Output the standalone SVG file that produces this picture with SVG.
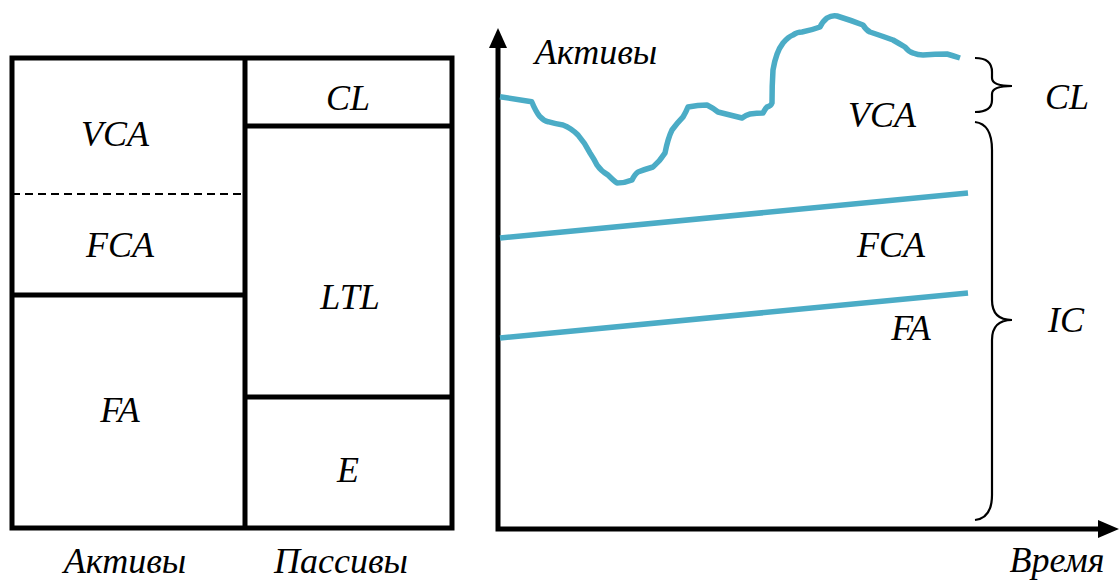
<svg xmlns="http://www.w3.org/2000/svg" width="1119" height="580" viewBox="0 0 1119 580">
<style>
.t{font-family:"Liberation Serif","Times New Roman",serif;font-style:italic;font-size:36px;fill:#000;text-anchor:middle}
.b{stroke:#000;stroke-width:5;fill:none}
.c{stroke:#4BACC6;stroke-width:5.5;fill:none;stroke-linejoin:round;stroke-linecap:butt}
.br{stroke:#000;stroke-width:2.2;fill:none}
</style>
<rect width="1119" height="580" fill="#fff"/>
<g id="balance">
<rect class="b" x="12" y="58" width="440" height="470"/>
<line class="b" x1="245" y1="58" x2="245" y2="528"/>
<line x1="12" y1="194" x2="245" y2="194" stroke="#000" stroke-width="2" stroke-dasharray="8,5"/>
<line class="b" x1="12" y1="295" x2="245" y2="295"/>
<line class="b" x1="245" y1="126" x2="452" y2="126"/>
<line class="b" x1="245" y1="397" x2="452" y2="397"/>
</g>
<g id="labels-left">
<text class="t" x="115" y="146">VCA</text>
<text class="t" x="120" y="257">FCA</text>
<text class="t" x="120" y="422">FA</text>
<text class="t" x="348" y="110">CL</text>
<text class="t" x="350" y="309">LTL</text>
<text class="t" x="348" y="482">E</text>
<text class="t" x="125" y="573">Активы</text>
<text class="t" x="341" y="573">Пассивы</text>
</g>
<g id="axes">
<polyline class="b" points="498,46 498,529 1100,529"/>
<polygon points="489,48 507,48 498,28" fill="#000"/>
<polygon points="1098,520 1098,538 1119,529" fill="#000"/>
</g>
<g id="curves">
<path class="c" d="M500,96.7 L531.7,101.7 Q536,112 540,116.7 Q544,121 548,121.7 Q556,124 563,125 Q571,128 578,135 Q585,143 590,153 Q594,159 597,165 Q601,171 608,175 Q614,181 617,183 Q625,183 632,180 Q635,174 638,172 Q646,169 653,167 Q660,161 665,153 Q668,138 672,130 Q678,122 683,117 Q686,112 688,107 Q698,105 707,105 Q713,108 718,112 Q730,115 742,118 Q746,115 750,114 Q757,113 763,113 Q765,109 767,107 Q771,106 772,103 Q772,85 773,70 Q776,52 783,43 Q788,37 793,35 Q797,32 802,32 Q812,30 820,27 Q823,21 827,18 Q832,15 837,16 Q850,20 863,25 Q866,30 870,32 Q882,36 893,40 Q900,44 905,47 Q909,52 913,53 Q918,55 923,55 Q935,54 947,54 Q954,56 960,58"/>
<line class="c" x1="500" y1="238" x2="968" y2="193"/>
<line class="c" x1="500" y1="338" x2="968" y2="293"/>
</g>
<g id="braces">
<path class="br" d="M975,58 Q992,58 992,72 L992,78 Q992,86 1012,86 Q992,86 992,94 L992,100 Q992,112 975,112"/>
<path class="br" d="M975,122 Q992,124 992,150 L992,300 Q992,320 1012,320 Q992,320 992,340 L992,495 Q992,518 975,520"/>
</g>
<g id="labels-right">
<text class="t" x="596" y="64">Активы</text>
<text class="t" x="882" y="127">VCA</text>
<text class="t" x="891" y="257">FCA</text>
<text class="t" x="911" y="340">FA</text>
<text class="t" x="1067" y="109">CL</text>
<text class="t" x="1066" y="332">IC</text>
<text class="t" x="1057" y="572">Время</text>
</g>
</svg>
